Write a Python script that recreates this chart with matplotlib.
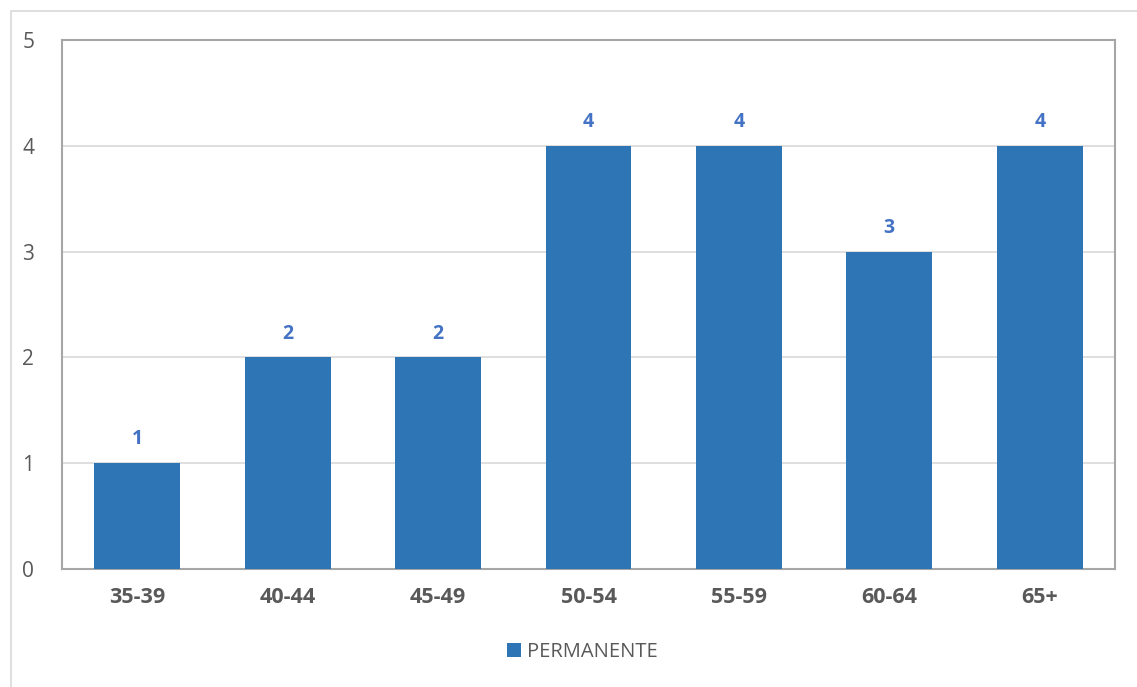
import matplotlib.pyplot as plt
from matplotlib.patches import Rectangle

# --- Data ---
CATEGORIES = ['35-39', '40-44', '45-49', '50-54', '55-59', '60-64', '65+']
VALUES = [1, 2, 2, 4, 4, 3, 4]
SERIES_NAME = 'PERMANENTE'

BAR_COLOR = '#2E75B6'
LABEL_COLOR = '#4472C4'
TEXT_COLOR = '#595959'

plt.rcParams['font.family'] = ['Open Sans', 'DejaVu Sans']

fig = plt.figure(figsize=(11.37, 6.87), dpi=100, facecolor='white')

# Outer chart border (light gray, runs off the right/bottom edge)
fig.patches.append(Rectangle((11 / 1137, -0.01), 1.2, 1 - 11 / 687 + 0.01,
                             transform=fig.transFigure, fill=False,
                             edgecolor='#D9D9D9', linewidth=1.2))

ax = fig.add_axes([62 / 1137, 1 - 569 / 687, (1115 - 62) / 1137, (569 - 40) / 687])

x = list(range(len(CATEGORIES)))
bars = ax.bar(x, VALUES, width=0.57, color=BAR_COLOR, zorder=3, label=SERIES_NAME)

for xi, v in zip(x, VALUES):
    ax.annotate(str(v), (xi, v), xytext=(0, 10), textcoords='offset points',
                ha='center', va='bottom', fontsize=14, fontweight='bold',
                color=LABEL_COLOR)

ax.set_xlim(-0.5, len(CATEGORIES) - 0.5)
ax.set_ylim(0, 5)
ax.set_yticks(range(0, 6))
ax.yaxis.grid(True, color='#D9D9D9', linewidth=1.2, zorder=0)

ax.set_xticks(x)
ax.set_xticklabels(CATEGORIES, fontsize=15.5, fontweight='bold', color=TEXT_COLOR)
ax.tick_params(axis='y', labelsize=15, labelcolor=TEXT_COLOR, length=0, pad=20)
ax.tick_params(axis='x', length=0, pad=13)

for s in ax.spines.values():
    s.set_color('#A6A6A6')
    s.set_linewidth(1.5)

fig.legend(handles=[bars], labels=[SERIES_NAME], loc='center',
           bbox_to_anchor=(582 / 1137, 1 - 652 / 687), frameon=False,
           fontsize=14.5, labelcolor=TEXT_COLOR, handlelength=0.7,
           handleheight=0.7, handletextpad=0.3)

fig.savefig('out.png', dpi=100, facecolor='white')
